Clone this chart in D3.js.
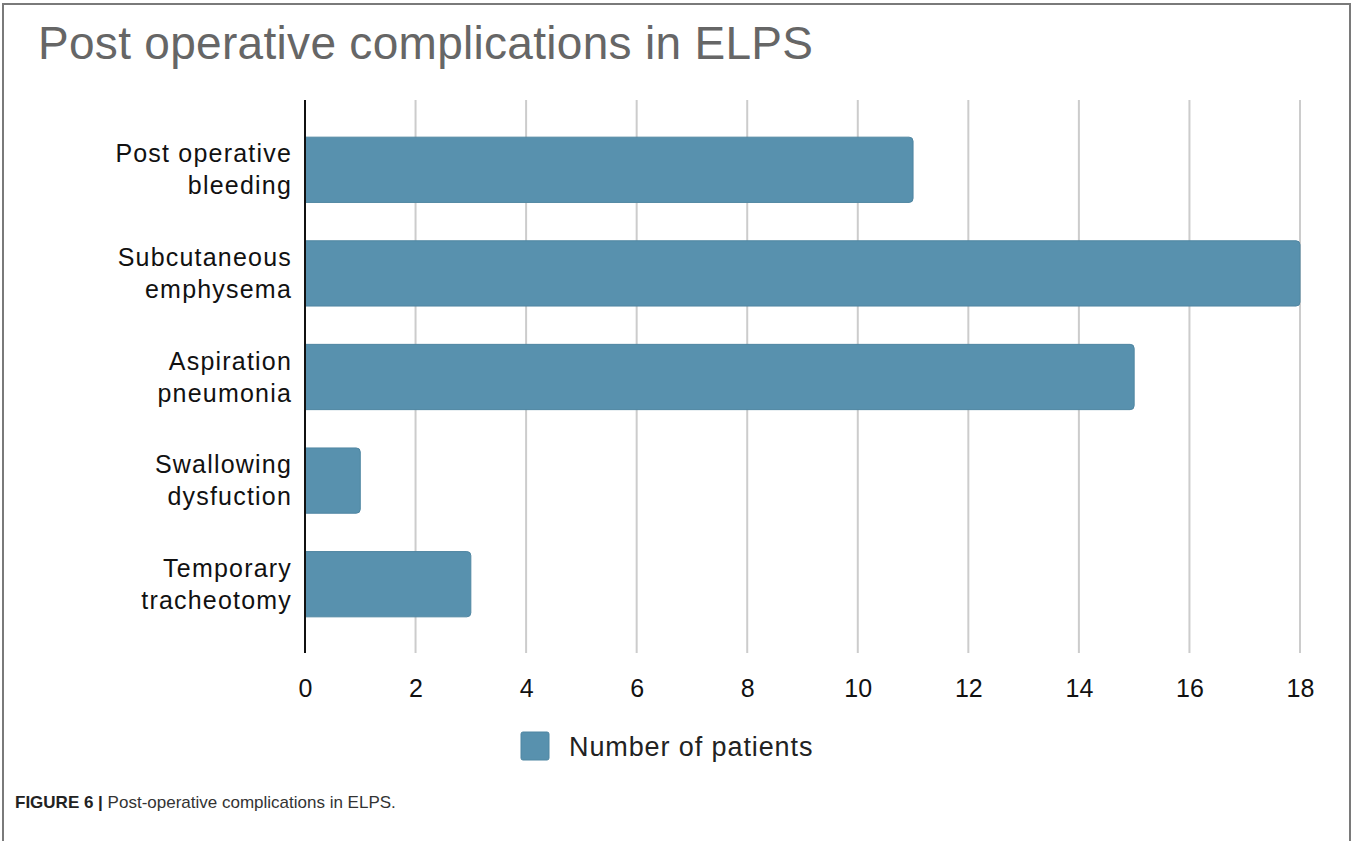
<!DOCTYPE html>
<meta charset="utf-8">
<style>
    body { margin: 0; background: #fff; }
    text { font-family: "Liberation Sans", Arial, sans-serif; }
    .grid line { stroke: #cccccc; stroke-width: 2px; }
    .bars path { fill: #5891ae; stroke: #4f86a2; stroke-width: 1px; }
</style>
<svg width="1352" height="841"></svg>
<script src="https://cdnjs.cloudflare.com/ajax/libs/d3/7.8.5/d3.min.js"></script>
<script>

    var categories = [
        ["Post operative", "bleeding"],
        ["Subcutaneous", "emphysema"],
        ["Aspiration", "pneumonia"],
        ["Swallowing", "dysfuction"],
        ["Temporary", "tracheotomy"]
    ];
    var patients = [11, 18, 15, 1, 3];
    var xTicks = [0, 2, 4, 6, 8, 10, 12, 14, 16, 18];
    var seriesName = "Number of patients";

    var svg = d3.select("svg");

    // outer frame
    svg.append("path")
            .attr("d", "M3,845 V4 H1350 V845")
            .attr("fill", "none")
            .attr("stroke", "#7a7a7a")
            .attr("stroke-width", 2);

    svg.append("text")
            .attr("x", 38)
            .attr("y", 59)
            .attr("font-size", 46)
            .attr("letter-spacing", 0.3)
            .attr("fill", "#666")
            .text("Post operative complications in ELPS");

    var x = d3.scaleLinear().domain([0, 18]).range([305, 1300]);
    var y = d3.scaleBand()
            .domain(d3.range(categories.length))
            .range([118, 636])
            .paddingInner(0.37)
            .paddingOuter(0.185);

    var plotTop = 100, plotBottom = 653;

    svg.append("g")
            .attr("class", "grid")
            .selectAll("line")
            .data(xTicks.slice(1))
            .enter().append("line")
            .attr("x1", function(d) { return x(d); })
            .attr("x2", function(d) { return x(d); })
            .attr("y1", plotTop)
            .attr("y2", plotBottom);

    // bars, square at the base, rounded at the end
    var r = 4;
    svg.append("g")
            .attr("class", "bars")
            .selectAll("path")
            .data(patients)
            .enter().append("path")
            .attr("d", function(d, i) {
                var x0 = x(0), x1 = x(d), y0 = y(i), h = y.bandwidth();
                return "M" + x0 + "," + y0 +
                        "H" + (x1 - r) +
                        "Q" + x1 + "," + y0 + " " + x1 + "," + (y0 + r) +
                        "V" + (y0 + h - r) +
                        "Q" + x1 + "," + (y0 + h) + " " + (x1 - r) + "," + (y0 + h) +
                        "H" + x0 + "Z";
            });

    svg.append("line")
            .attr("x1", x(0)).attr("x2", x(0))
            .attr("y1", plotTop).attr("y2", plotBottom)
            .attr("stroke", "#111")
            .attr("stroke-width", 2);

    var xAxis = svg.append("g")
            .attr("transform", "translate(0," + 697 + ")")
            .call(d3.axisBottom(x).tickValues(xTicks).tickSize(0).tickPadding(0));
    xAxis.select(".domain").remove();
    xAxis.selectAll("text")
            .attr("font-size", 25)
            .attr("fill", "#111")
            .attr("dy", 0)
            .style("font-family", "'Liberation Sans', Arial, sans-serif");

    var labels = svg.append("g")
            .selectAll("text")
            .data(categories)
            .enter().append("text")
            .attr("text-anchor", "end")
            .attr("font-size", 25)
            .attr("letter-spacing", 1.2)
            .attr("fill", "#111")
            .attr("y", function(d, i) { return y(i) + y.bandwidth() / 2 - 7.5; });
    labels.selectAll("tspan")
            .data(function(d) { return d; })
            .enter().append("tspan")
            .attr("x", 292)
            .attr("dy", function(d, j) { return j === 0 ? 0 : 32; })
            .text(function(d) { return d; });

    // legend
    svg.append("rect")
            .attr("x", 521).attr("y", 732)
            .attr("width", 28).attr("height", 28)
            .attr("rx", 2)
            .attr("fill", "#5891ae")
            .attr("stroke", "#4f86a2");
    svg.append("text")
            .attr("x", 569).attr("y", 756)
            .attr("font-size", 27)
            .attr("letter-spacing", 0.9)
            .attr("fill", "#222")
            .text(seriesName);

    // figure caption
    var cap = svg.append("text")
            .attr("x", 15).attr("y", 808)
            .attr("font-size", 17)
            .attr("fill", "#333")
            .style("font-family", "'Liberation Sans Narrow', 'Liberation Sans', Arial, sans-serif");
    cap.append("tspan").attr("font-weight", "bold").attr("fill", "#222").text("FIGURE 6 | ");
    cap.append("tspan").text("Post-operative complications in ELPS.");

</script>
